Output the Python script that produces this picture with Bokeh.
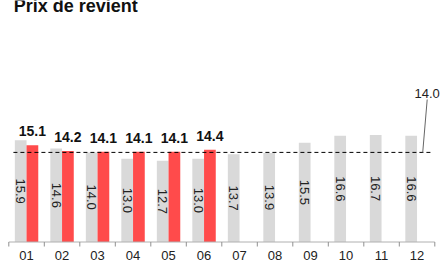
from bokeh.plotting import figure
from bokeh.models import ColumnDataSource, Label
from bokeh.core.properties import value
from bokeh.embed import file_html
from bokeh.resources import INLINE
import math

months = ["01", "02", "03", "04", "05", "06", "07", "08", "09", "10", "11", "12"]
prev_year = [15.9, 14.6, 14.0, 13.0, 12.7, 13.0, 13.7, 13.9, 15.5, 16.6, 16.7, 16.6]
cur_year = [15.1, 14.2, 14.1, 14.1, 14.1, 14.4]
target = 14.0
title_text = "Prix de revient"

PX_PER_UNIT = 6.4
PX_PER_CAT = 35.5
LEFT_PAD = 8.3
BASE_Y = 241.5          # pixel row of the zero line
W, H = 442, 264
y_start = -(H - BASE_Y) / PX_PER_UNIT
y_end = BASE_Y / PX_PER_UNIT
x_start = -LEFT_PAD / PX_PER_CAT
x_end = x_start + W / PX_PER_CAT

def py(px):
    """pixel row -> data y"""
    return (BASE_Y - px) / PX_PER_UNIT

p = figure(width=W, height=H, output_backend="svg", toolbar_location=None,
           x_range=(x_start, x_end), y_range=(y_start, y_end),
           min_border_left=0, min_border_right=0, min_border_top=0, min_border_bottom=0)
p.outline_line_color = None
p.grid.visible = False
p.axis.visible = False
p.background_fill_color = "white"

FONT = value("Liberation Sans")

n = len(months)
gx = [i + 0.335 for i in range(len(prev_year))]
rx = [i + 0.665 for i in range(len(cur_year))]
gsrc = ColumnDataSource(dict(x=gx, top=prev_year, mid=[v / 2 for v in prev_year],
                             lab=["%.1f" % v for v in prev_year]))
rsrc = ColumnDataSource(dict(x=rx, top=cur_year, lab=["%.1f" % v for v in cur_year]))

p.vbar(x="x", top="top", bottom=0, width=0.33, source=gsrc, fill_color="#d9d9d9", line_color=None)
p.vbar(x="x", top="top", bottom=0, width=0.33, source=rsrc, fill_color="#ff4b4b", line_color=None)

p.text(x="x", y="mid", text="lab", source=gsrc, angle=-math.pi / 2,
       text_align="center", text_baseline="middle", text_font_size="13px",
       text_color="#222222", text_font=FONT)
p.text(x="x", y="top", text="lab", source=rsrc, y_offset=-14,
       text_align="center", text_baseline="middle", text_font_size="14px",
       text_font_style="bold", text_color="#111111", text_font=FONT)

# category axis: baseline, boundary ticks and month labels
p.line(x=[0, n], y=[0, 0], line_color="#b0b0b0", line_width=1)
p.segment(x0=list(range(n + 1)), y0=[0] * (n + 1), x1=list(range(n + 1)),
          y1=[py(BASE_Y + 4.5)] * (n + 1), line_color="#909090", line_width=1)
p.text(x=[i + 0.5 for i in range(n)], y=[py(254.5)] * n, text=months,
       text_align="center", text_baseline="middle", text_font_size="13px",
       text_color="#222222", text_font=FONT)

# target dashed line
p.line(x=[0.13, 11.9], y=[target, target], line_color="black", line_width=1, line_dash="4 3")
# callout leader and value
p.line(x=[11.66, 11.786], y=[target, py(99)], line_color="#666666", line_width=1)
p.add_layout(Label(x=11.786, y=py(92.7), text="%.1f" % target, text_align="center",
                   text_baseline="middle", text_font_size="13px", text_color="#222222",
                   text_font="Liberation Sans"))
# title (partly above the top edge, as in the original)
p.add_layout(Label(x=0.141, y=py(5), text=title_text, text_align="left",
                   text_baseline="alphabetic", text_font_size="18px", text_font_style="bold",
                   text_color="#111111", text_font="Liberation Sans"))

open("out.html", "w").write(file_html(p, INLINE))
